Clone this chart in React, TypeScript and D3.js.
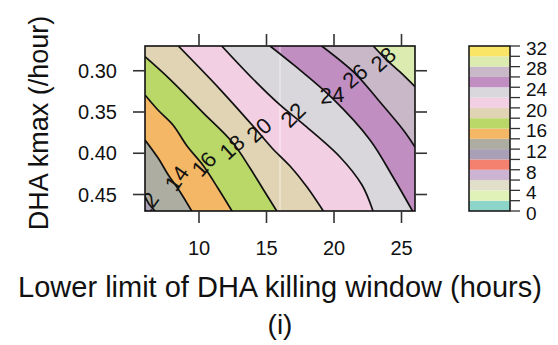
import React from 'react';
import * as d3 from 'd3';

// ---- data ----
const xDomain = [6, 26];
const yDomain = [0.27, 0.47];
const xTicks = [10, 15, 20, 25];
const yTicks = [0.3, 0.35, 0.4, 0.45];
const yTickLabels = ['0.30', '0.35', '0.40', '0.45'];

const levels = [12, 14, 16, 18, 20, 22, 24, 26, 28];
const contour12 = [[6, 0.4527], [6.3, 0.4615], [6.74, 0.47]];
const contour14 = [[6, 0.3839], [6.985, 0.4061], [7.726, 0.4264], [8.593, 0.4466], [9.459, 0.47]];
const contour16 = [[6, 0.3294], [6.963, 0.3476], [8.074, 0.3658], [9.111, 0.3912], [10.296, 0.4145], [11.407, 0.4424], [12.444, 0.47]];
const contour18 = [[6, 0.283], [7.852, 0.3104], [10.296, 0.3508], [12.519, 0.3876], [13.778, 0.4179], [14.741, 0.4433], [15.756, 0.47]];
const contour20 = [[8.467, 0.27], [11.556, 0.3225], [14.0, 0.367], [15.407, 0.3936], [16.741, 0.4155], [18.0, 0.4409], [19.207, 0.47]];
const contour22 = [[11.681, 0.27], [13.998, 0.31], [16.0, 0.3415], [17.704, 0.3645], [20.444, 0.4045], [22.074, 0.4385], [22.889, 0.47]];
const contour24 = [[15.259, 0.27], [17.111, 0.2942], [19.852, 0.333], [22.667, 0.3839], [24.37, 0.4288], [25.815, 0.47]];
const contour26 = [[19.089, 0.27], [21.556, 0.3031], [23.281, 0.3355], [25.133, 0.3718], [26.0, 0.3924]];
const contour28 = [[22.911, 0.27], [23.778, 0.2849], [24.889, 0.3015], [26.0, 0.3193]];
const contours = [contour12, contour14, contour16, contour18, contour20, contour22, contour24, contour26, contour28];

const labelX = [6.133, 8.348, 10.37, 12.444, 14.444, 16.963, 19.852, 21.556, 23.652];
const labelY = [0.4621, 0.4304, 0.413, 0.3924, 0.3718, 0.3536, 0.3294, 0.3064, 0.2861];

const legendBreaks = [0, 2, 4, 6, 8, 10, 12, 14, 16, 18, 20, 22, 24, 26, 28, 30, 32];
const legendColors = [
  '#8ed5c9', '#e1f2b8', '#e1dfca', '#cdb4d3', '#f4806f', '#a9a0b8', '#adaea1', '#f3b765',
  '#bad868', '#e0d4b4', '#f2cfe2', '#d9d6dc', '#c18ec1', '#c8b8c8', '#dcebb0', '#fbe566',
];
const legendLabels = [0, 4, 8, 12, 16, 20, 24, 28, 32];

// ---- layout ----
const W = 558;
const H = 345;
const plot = { left: 145, right: 415, top: 46, bottom: 211 };
const legendBox = { left: 469, right: 510 };
const labelAngles = [-55, -55, -48, -42, -42, -45, -5, -40, -42];

export default function App() {
  const x = d3.scaleLinear().domain(xDomain).range([plot.left, plot.right]);
  const y = d3.scaleLinear().domain(yDomain).range([plot.top, plot.bottom]);
  const ly = d3.scaleLinear().domain([0, 32]).range([plot.bottom, plot.top]);

  const lineGen = d3
    .line<number[]>()
    .x((d) => x(d[0]))
    .y((d) => y(d[1]))
    .curve(d3.curveCatmullRom.alpha(0.5));

  const regionPath = (pts: number[][]) => {
    const start = pts[0];
    const end = pts[pts.length - 1];
    const corners: number[][] = [];
    if (end[1] >= yDomain[1] - 1e-9) corners.push([xDomain[1], yDomain[1]]);
    corners.push([xDomain[1], yDomain[0]]);
    if (start[0] <= xDomain[0] + 1e-9) corners.push([xDomain[0], yDomain[0]]);
    return (
      (lineGen(pts) || '') +
      corners.map((c) => `L${x(c[0])},${y(c[1])}`).join('') +
      'Z'
    );
  };

  const bandColor = (lv: number) => legendColors[legendBreaks.indexOf(lv)];
  const font = "'Liberation Sans', Arial, sans-serif";
  const tickColor = '#333';

  return (
    <svg
      width={W}
      height={H}
      style={{ position: 'absolute', left: 0, top: 0, background: '#fff' }}
      fontFamily={font}
    >
      <defs>
        <clipPath id="plotclip">
          <rect x={plot.left} y={plot.top} width={plot.right - plot.left} height={plot.bottom - plot.top} />
        </clipPath>
      </defs>
      <g clipPath="url(#plotclip)">
        <rect
          x={plot.left}
          y={plot.top}
          width={plot.right - plot.left}
          height={plot.bottom - plot.top}
          fill={bandColor(10)}
        />
        {contours.map((pts, i) => (
          <path key={'f' + i} d={regionPath(pts)} fill={bandColor(levels[i])} stroke="none" />
        ))}
        <line x1={x(16)} x2={x(16)} y1={plot.top} y2={plot.bottom} stroke="#fff" strokeOpacity={0.55} strokeWidth={1.2} />
        {contours.map((pts, i) => (
          <path key={'l' + i} d={lineGen(pts) || ''} fill="none" stroke="#111" strokeWidth={1.7} />
        ))}
        {levels.map((lv, i) => (
          <text
            key={'t' + i}
            transform={`translate(${x(labelX[i])},${y(labelY[i])}) rotate(${labelAngles[i]})`}
            textAnchor="middle"
            dy="0.35em"
            fontSize={22}
            fill="#111"
          >
            {lv}
          </text>
        ))}
      </g>
      <rect
        x={plot.left}
        y={plot.top}
        width={plot.right - plot.left}
        height={plot.bottom - plot.top}
        fill="none"
        stroke="#111"
        strokeWidth={1.6}
      />
      {xTicks.map((t) => (
        <g key={'xt' + t}>
          <line x1={x(t)} x2={x(t)} y1={plot.bottom} y2={plot.bottom + 12} stroke={tickColor} strokeWidth={1.6} />
          <line x1={x(t)} x2={x(t)} y1={plot.top} y2={plot.top - 12} stroke={tickColor} strokeWidth={1.6} />
          <text x={x(t)} y={255} textAnchor="middle" fontSize={20} fill="#111">
            {t}
          </text>
        </g>
      ))}
      {yTicks.map((t, i) => (
        <g key={'yt' + t}>
          <line x1={plot.left} x2={plot.left - 12} y1={y(t)} y2={y(t)} stroke={tickColor} strokeWidth={1.6} />
          <line x1={plot.right} x2={plot.right + 12} y1={y(t)} y2={y(t)} stroke={tickColor} strokeWidth={1.6} />
          <text x={117} y={y(t)} dy="0.36em" textAnchor="end" fontSize={20} fill="#111">
            {yTickLabels[i]}
          </text>
        </g>
      ))}
      <text x={280} y={297} textAnchor="middle" fontSize={29} fill="#111">
        Lower limit of DHA killing window (hours)
      </text>
      <text x={280} y={334} textAnchor="middle" fontSize={28} fill="#111">
        (i)
      </text>
      <text transform={`translate(48,123) rotate(-90)`} textAnchor="middle" fontSize={27} fill="#111">
        DHA kmax (/hour)
      </text>
      {legendColors.map((c, i) => (
        <rect
          key={'lg' + i}
          x={legendBox.left}
          y={ly(legendBreaks[i + 1])}
          width={legendBox.right - legendBox.left}
          height={ly(legendBreaks[i]) - ly(legendBreaks[i + 1])}
          fill={c}
        />
      ))}
      <rect
        x={legendBox.left}
        y={plot.top}
        width={legendBox.right - legendBox.left}
        height={plot.bottom - plot.top}
        fill="none"
        stroke="#111"
        strokeWidth={1.5}
      />
      {legendBreaks.map((b) => (
        <line key={'lt' + b} x1={legendBox.right} x2={legendBox.right + 10} y1={ly(b)} y2={ly(b)} stroke={tickColor} strokeWidth={1.3} />
      ))}
      {legendLabels.map((b) => (
        <text key={'ll' + b} x={526} y={ly(b) + 2} dy="0.36em" fontSize={19} fill="#111">
          {b}
        </text>
      ))}
    </svg>
  );
}
